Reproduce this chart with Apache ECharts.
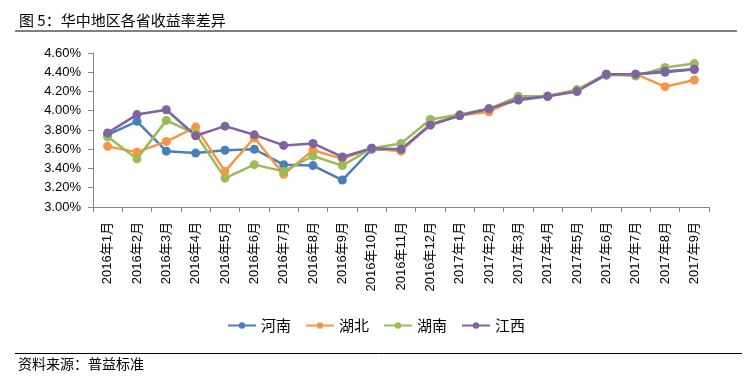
<!DOCTYPE html>
<html>
<head>
<meta charset="utf-8">
<script src="https://cdn.jsdelivr.net/npm/echarts@6/dist/echarts.min.js"></script>
<style>
html,body{margin:0;padding:0;background:#fff;}
#c{width:752px;height:379px;}
</style>
</head>
<body>
<div id="c"></div>
<script>
const categories = ['2016年1月','2016年2月','2016年3月','2016年4月','2016年5月','2016年6月','2016年7月','2016年8月','2016年9月','2016年10月','2016年11月','2016年12月','2017年1月','2017年2月','2017年3月','2017年4月','2017年5月','2017年6月','2017年7月','2017年8月','2017年9月'];
const henan = [3.75,3.89,3.58,3.56,3.59,3.60,3.44,3.43,3.28,3.60,3.59,3.86,3.95,4.02,4.11,4.15,4.21,4.37,4.38,4.40,4.43];
const hubei = [3.63,3.57,3.68,3.83,3.37,3.72,3.34,3.59,3.50,3.61,3.58,3.86,3.95,3.99,4.13,4.15,4.21,4.38,4.38,4.25,4.32];
const hunan = [3.73,3.50,3.90,3.76,3.30,3.44,3.37,3.53,3.43,3.61,3.66,3.91,3.96,4.02,4.15,4.15,4.22,4.38,4.36,4.45,4.49];
const jiangxi = [3.77,3.96,4.01,3.74,3.84,3.75,3.64,3.66,3.52,3.61,3.60,3.85,3.95,4.02,4.12,4.15,4.20,4.38,4.38,4.41,4.43];
const seriesNames = ['河南','湖北','湖南','江西'];
const seriesColors = ['#4A7EBB','#F79646','#9BBB59','#8064A2'];
const yMin = 3.0, yMax = 4.6, yStep = 0.2;

const chart = echarts.init(document.getElementById('c'));
const cjk = '"Noto Sans CJK SC", sans-serif';
const dataSets = [henan, hubei, hunan, jiangxi];
chart.setOption({
  animation: false,
  title: {
    text: '图 5：华中地区各省收益率差异',
    left: 14, top: 8,
    textStyle: {fontSize: 15, fontWeight: 'normal', color: '#000', fontFamily: cjk}
  },
  graphic: [
    {type: 'line', shape: {x1: 15, y1: 31, x2: 737, y2: 31}, style: {stroke: '#000', lineWidth: 1}},
    {type: 'line', shape: {x1: 15, y1: 353.5, x2: 742, y2: 353.5}, style: {stroke: '#000', lineWidth: 1}},
    {type: 'text', left: 18, top: 357, style: {text: '资料来源：普益标准', fontSize: 14, fill: '#000', fontFamily: cjk}}
  ],
  legend: {
    data: seriesNames,
    left: 'center', top: 313,
    itemWidth: 28, itemHeight: 8, itemGap: 14,
    textStyle: {fontSize: 15, color: '#000', fontFamily: cjk}
  },
  grid: {left: 93, right: 43, top: 53, bottom: 172},
  xAxis: {
    type: 'category',
    data: categories,
    boundaryGap: true,
    axisLine: {lineStyle: {color: '#868686', width: 1}},
    axisTick: {show: true, length: 5, lineStyle: {color: '#868686'}},
    axisLabel: {interval: 0, rotate: 90, fontSize: 13, color: '#000', margin: 15, fontFamily: 'Liberation Sans, "Noto Sans CJK SC", sans-serif'}
  },
  yAxis: {
    type: 'value',
    min: yMin, max: yMax, interval: yStep,
    splitLine: {show: false},
    axisLine: {show: true, lineStyle: {color: '#868686', width: 1}},
    axisTick: {show: true, length: 5, lineStyle: {color: '#868686'}},
    axisLabel: {fontSize: 13, color: '#000', margin: 12, fontFamily: 'Liberation Sans, sans-serif', formatter: v => v.toFixed(2) + '%'}
  },
  series: seriesNames.map((n, i) => ({
    name: n,
    type: 'line',
    data: dataSets[i],
    symbol: 'circle',
    symbolSize: 9,
    color: seriesColors[i],
    lineStyle: {width: 2.5, color: seriesColors[i]},
    itemStyle: {color: seriesColors[i]}
  }))
});
</script>
</body>
</html>
